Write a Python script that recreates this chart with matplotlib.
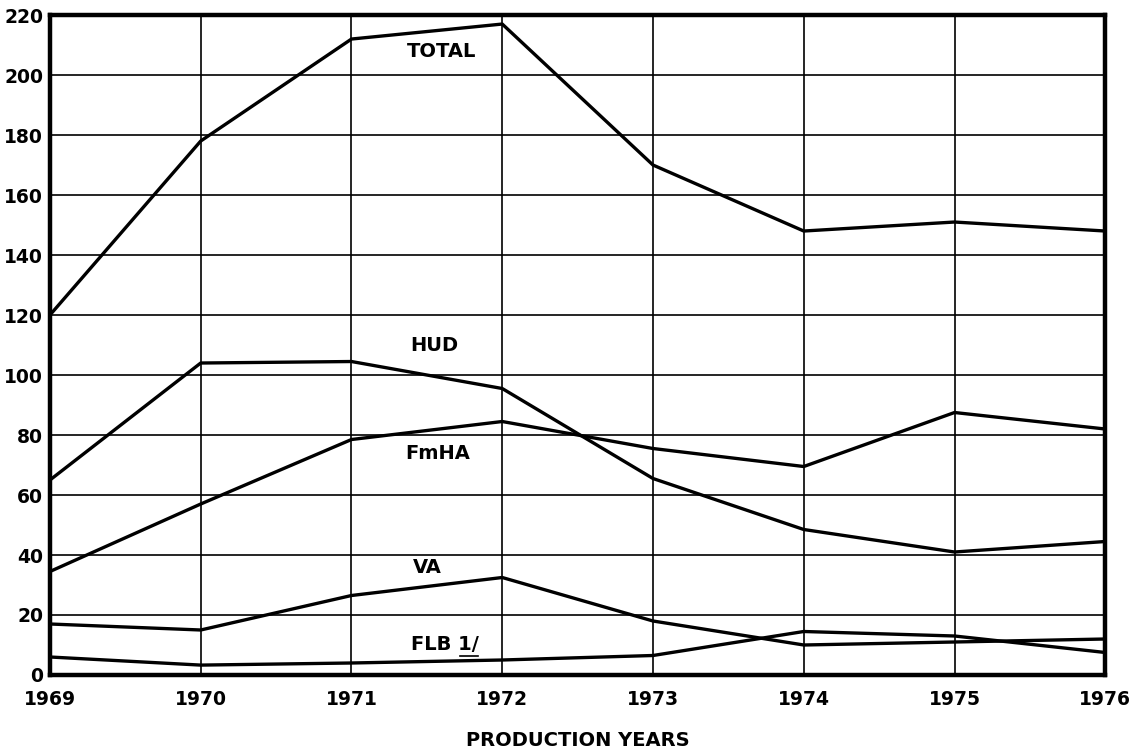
import matplotlib
matplotlib.use("Agg")
import matplotlib.pyplot as plt

# years and series (thousands of units)
years = [1969, 1970, 1971, 1972, 1973, 1974, 1975, 1976]
total = [120, 178, 212, 217, 170, 148, 151, 148]
hud = [65, 104, 104.5, 95.5, 65.5, 48.5, 41, 44.5]
fmha = [34.5, 57, 78.5, 84.5, 75.5, 69.5, 87.5, 82]
va = [17, 15, 26.5, 32.5, 18, 10, 11, 12]
flb = [6, 3.3, 4, 5, 6.5, 14.5, 13, 7.5]

series_labels = ["TOTAL", "HUD", "FmHA", "VA", "FLB 1/"]
label_x = [1971.6, 1971.55, 1971.57, 1971.5, 1971.62]
label_y = [208, 110, 74, 36, 10]

yticks = list(range(0, 221, 20))

plt.rcParams['font.family'] = ['Liberation Sans Narrow', 'DejaVu Sans']
plt.rcParams['font.weight'] = 'bold'

fig = plt.figure(figsize=(11.43, 7.52), dpi=100)
ax = fig.add_axes([0.0437, 0.1024, 0.9233, 0.8776])

for s in [total, hud, fmha, va, flb]:
    ax.plot(years, s, color="black", lw=2.4, solid_joinstyle="round", zorder=3)

for txt, x, y in zip(series_labels, label_x, label_y):
    ax.text(x, y, txt, ha="center", va="center", fontsize=14,
            fontweight="bold", color="black", zorder=4)
# underline under the footnote mark "1/"
ax.plot([1971.72, 1971.84], [6.3, 6.3], color="black", lw=1.2, zorder=4)

ax.set_xlim(1969, 1976)
ax.set_ylim(0, 220)
ax.set_xticks(years)
ax.set_yticks(yticks)
ax.grid(True, color="black", lw=1.2)
ax.tick_params(length=0, labelsize=13.5)
ax.tick_params(axis="x", pad=11)
ax.tick_params(axis="y", pad=5)
for lab in ax.get_xticklabels() + ax.get_yticklabels():
    lab.set_fontweight("bold")
for sp in ax.spines.values():
    sp.set_linewidth(3.2)

ax.set_xlabel("PRODUCTION YEARS", fontsize=14, fontweight="bold", labelpad=16)

fig.savefig("out.png", dpi=100)
